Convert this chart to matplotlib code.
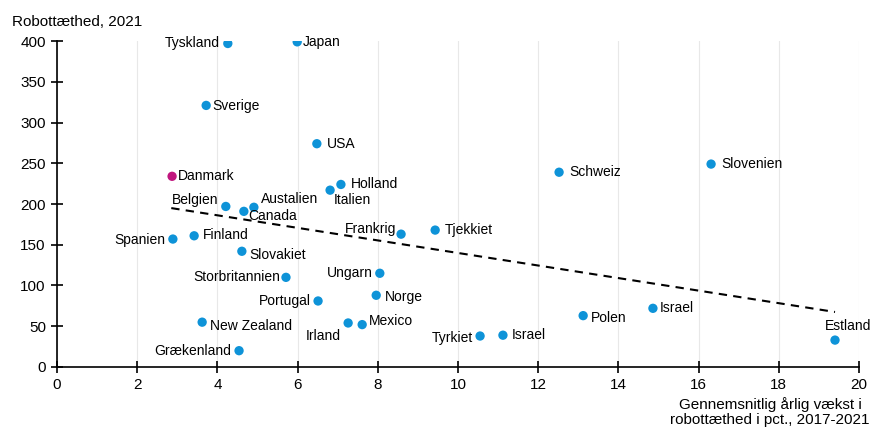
import matplotlib
matplotlib.use("Agg")
import matplotlib.pyplot as plt

plt.rcParams['font.family'] = ['Liberation Sans', 'DejaVu Sans']

# data
countries = ['Tyskland', 'Japan', 'Sverige', 'USA', 'Danmark', 'Holland', 'Italien',
             'Belgien', 'Austalien', 'Canada', 'Spanien', 'Finland', 'Slovakiet',
             'Frankrig', 'Tjekkiet', 'Storbritannien', 'Ungarn', 'Norge', 'Portugal',
             'New Zealand', 'Irland', 'Mexico', 'Grækenland', 'Tyrkiet', 'Israel',
             'Polen', 'Israel', 'Schweiz', 'Slovenien', 'Estland']
growth = [4.26, 5.99, 3.72, 6.48, 2.87, 7.08, 6.81,
          4.21, 4.91, 4.66, 2.89, 3.42, 4.61,
          8.58, 9.43, 5.71, 8.05, 7.96, 6.51,
          3.62, 7.26, 7.61, 4.54, 10.55, 11.12,
          13.12, 14.86, 12.52, 16.31, 19.40]
density = [397, 399, 321, 274, 234, 224, 217,
           197, 196, 191, 157, 161, 142,
           163, 168, 110, 115, 88, 81,
           55, 54, 52, 20, 38, 39,
           63, 72, 239, 249, 33]

trend_x = [2.85, 19.4]
trend_y = [195, 67.5]

# label offsets in pixels (dx, dy, ha)
label_pos = {
    0: (-8, 0, 'right'), 1: (6, 0, 'left'), 2: (6, -1, 'left'), 3: (10, 0, 'left'),
    4: (6, 0, 'left'), 5: (10, 0, 'left'), 6: (4, -10, 'left'), 7: (-7, 6, 'right'),
    8: (7, 8, 'left'), 9: (4, -5, 'left'), 10: (-8, -1, 'right'), 11: (9, 1, 'left'),
    12: (7, -4, 'left'), 13: (-5, 5, 'right'), 14: (10, 0, 'left'), 15: (-6, 0, 'right'),
    16: (-7, 0, 'right'), 17: (9, -2, 'left'), 18: (-7, 0, 'right'), 19: (8, -4, 'left'),
    20: (-7, -13, 'right'), 21: (7, 4, 'left'), 22: (-8, 0, 'right'), 23: (-7, -2, 'right'),
    24: (9, 0, 'left'), 25: (8, -2, 'left'), 26: (7, 0, 'left'), 27: (10, 0, 'left'),
    28: (10, 0, 'left'), 29: (13, 14, 'center'),
}

blue = '#0E93D8'
pink = '#C0167E'
colors = [pink if c == 'Danmark' else blue for c in countries]

fig = plt.figure(figsize=(8.82, 4.32), dpi=100)
ax = fig.add_axes([0.0646, 0.1505, 0.9094, 0.7545])

ax.plot(trend_x, trend_y, color='black', linestyle=(0, (4, 3)), linewidth=1.5, zorder=2)
ax.scatter(growth, density, s=45, c=colors, linewidths=0, zorder=3)

for i, name in enumerate(countries):
    dx, dy, ha = label_pos[i]
    ax.annotate(name, (growth[i], density[i]), xytext=(dx, dy), textcoords='offset pixels',
                ha=ha, va='center', fontsize=10, color='black', zorder=4)

ax.set_xlim(0, 20)
ax.set_ylim(0, 400)
ax.set_xticks(range(0, 21, 2))
ax.set_yticks(range(0, 401, 50))
ax.grid(axis='x', color='#e8e8e8', linewidth=0.8)
ax.set_axisbelow(True)

for s in ['top', 'right']:
    ax.spines[s].set_visible(False)
for s in ['left', 'bottom']:
    ax.spines[s].set_linewidth(1.2)
    ax.spines[s].set_color('black')
ax.tick_params(direction='inout', length=8, width=1.2, labelsize=11, colors='black', pad=4)

fig.text(0.014, 0.965, 'Robottæthed, 2021', fontsize=11, ha='left', va='top')
fig.text(0.873, 0.012, 'Gennemsnitlig årlig vækst i\nrobottæthed i pct., 2017-2021',
         fontsize=11, ha='center', va='bottom', linespacing=1.05)

fig.savefig('out.png', dpi=100)
